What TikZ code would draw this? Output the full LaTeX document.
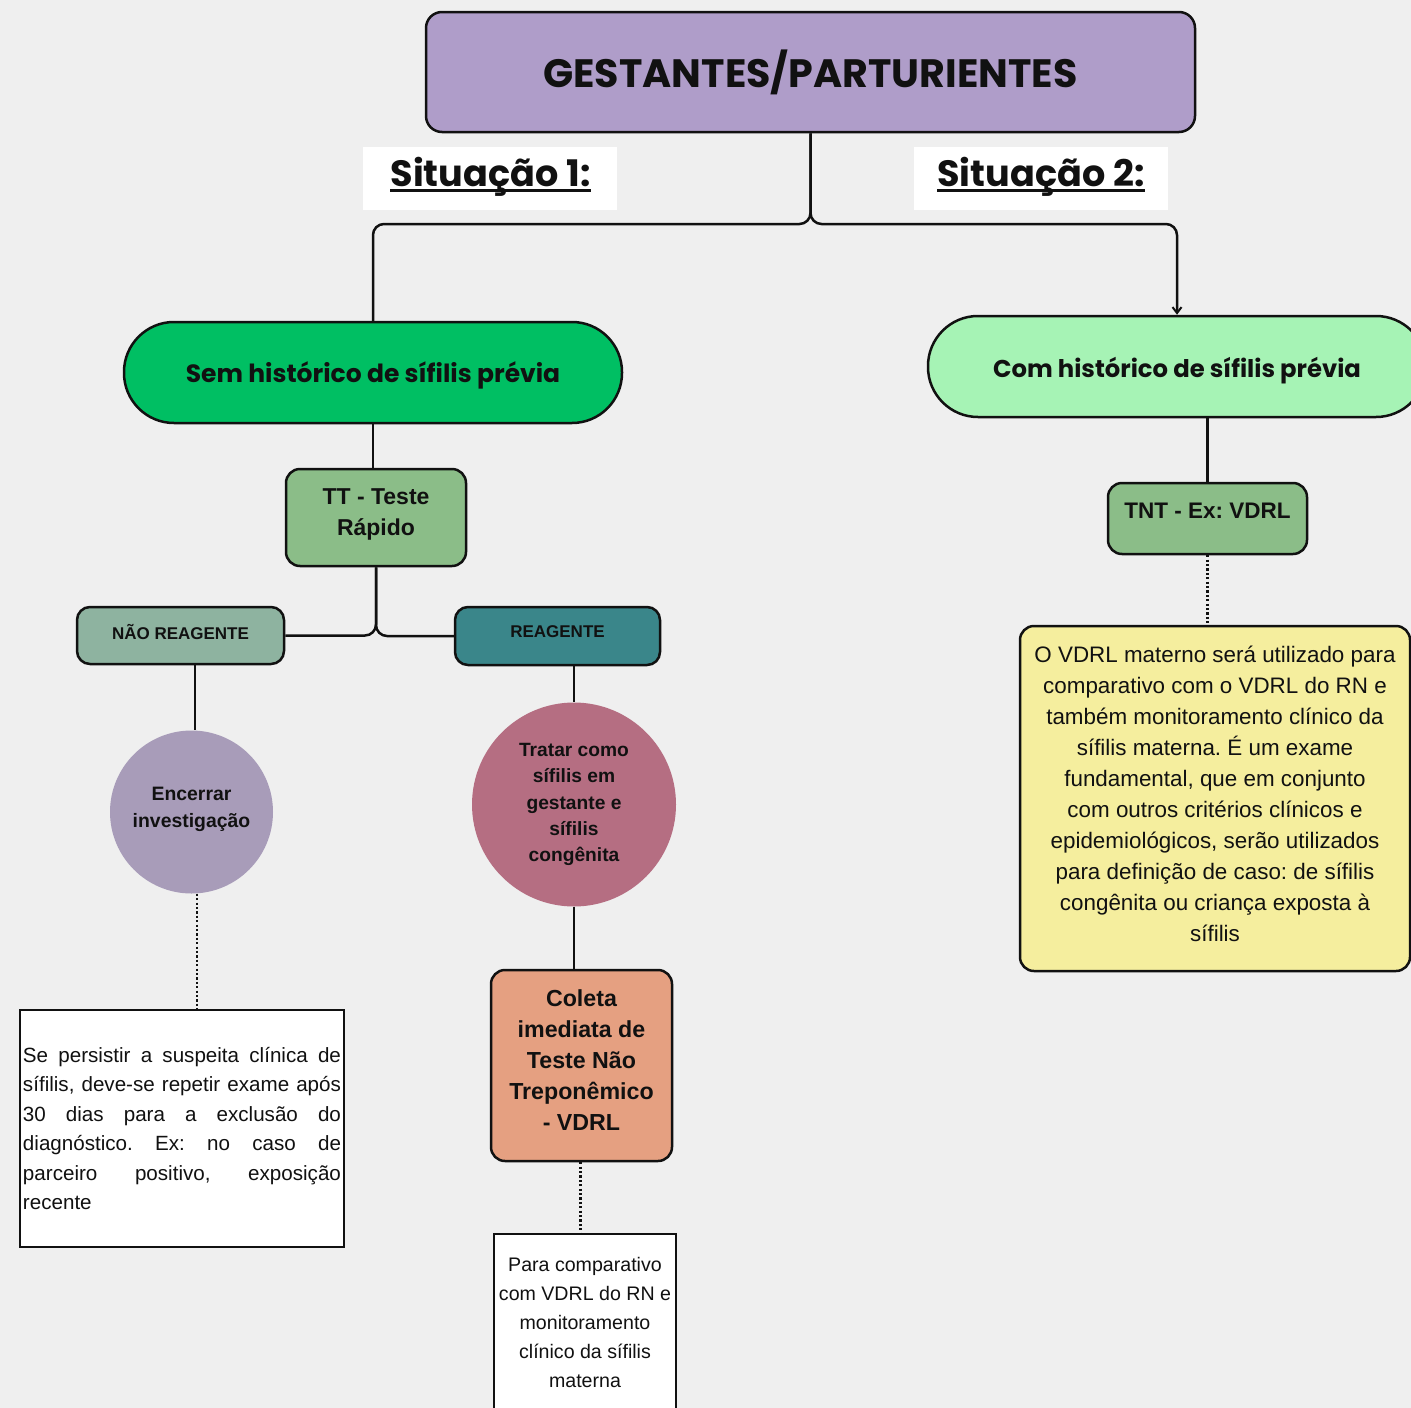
\documentclass[tikz,border=0pt]{standalone}
\usepackage{fontspec}
\setmainfont{Liberation Sans}
\newfontfamily\pop{Poppins}
\usetikzlibrary{arrows.meta}
\definecolor{bg}{HTML}{EFEFEF}
\definecolor{cTitle}{HTML}{AF9DC9}
\definecolor{cSem}{HTML}{00BF63}
\definecolor{cCom}{HTML}{A6F3B5}
\definecolor{cTT}{HTML}{8BBD88}
\definecolor{cNao}{HTML}{8EB3A0}
\definecolor{cReag}{HTML}{3A868A}
\definecolor{cEnc}{HTML}{A89CB9}
\definecolor{cTrat}{HTML}{B56E82}
\definecolor{cCol}{HTML}{E5A081}
\definecolor{cYel}{HTML}{F5EE9E}
\definecolor{ink}{HTML}{111111}
\hbadness=10000
\frenchspacing
\tikzset{
  box/.style={draw=ink, line width=2.5, rounded corners=14, inner sep=0, align=center, text=ink},
  pill/.style={draw=ink, line width=2.5, rounded corners=50, inner sep=0, text=ink, minimum width=498, minimum height=101},
  blob/.style={circle, inner sep=0, align=center, text=ink},
  note/.style={draw=ink, line width=1.6, fill=white, inner sep=0, text=ink},
  conn/.style={draw=ink, line width=2.5, rounded corners=11},
  dotconn/.style={draw=ink, line width=2.6, dash pattern=on 2.2 off 2.2},
}
\begin{document}
\begin{tikzpicture}[x=1pt,y=-1pt]
\path[fill=bg] (0,0) rectangle (1411,1408);
\useasboundingbox (0,0) rectangle (1411,1408);
\clip (0,0) rectangle (1411,1408);

% title
\node[box, fill=cTitle, rounded corners=16, minimum width=769, minimum height=120,
  font=\pop\bfseries\fontsize{39.6}{44}\selectfont]
  (title) at (810.5,72) {GESTANTES/PARTURIENTES};

% situation labels
\node[fill=white, minimum width=254, minimum height=63, inner sep=0] (s1box) at (490,178.5) {};
\node[anchor=base, inner sep=0, text=ink, font=\pop\bfseries\fontsize{36.6}{44}\selectfont] (s1t) at (490.5,186) {Situação 1:};
\draw[ink, line width=3] ([yshift=-4]s1t.base west) -- ([yshift=-4]s1t.base east);
\node[fill=white, minimum width=254, minimum height=63, inner sep=0] (s2box) at (1041,178.5) {};
\node[anchor=base, inner sep=0, text=ink, font=\pop\bfseries\fontsize{36.6}{44}\selectfont] (s2t) at (1041,186) {Situação 2:};
\draw[ink, line width=3] ([yshift=-4]s2t.base west) -- ([yshift=-4]s2t.base east);

% level 2
\node[pill, fill=cSem, font=\pop\bfseries\fontsize{25}{28}\selectfont] (sem) at (373,372.5)
  {\raisebox{0pt}[\dimexpr\height+5pt][\depth]{Sem histórico de sífilis prévia}};
\node[pill, fill=cCom, font=\pop\bfseries\fontsize{24.3}{28}\selectfont] (com) at (1177,366.5)
  {\raisebox{0pt}[\dimexpr\height+8pt][\depth]{Com histórico de sífilis prévia}};

% left branch
\node[box, fill=cTT, minimum width=180, minimum height=97, font=\bfseries\fontsize{23}{31}\selectfont] (tt) at (376,517.5)
  {TT - Teste\\Rápido\\[-20pt]\mbox{}};
\node[box, fill=cNao, rounded corners=13, minimum width=207, minimum height=57, font=\bfseries\fontsize{17}{20}\selectfont] (nao) at (180.5,635.5)
  {NÃO REAGENTE\raisebox{0pt}[0pt][8pt]{}};
\node[box, fill=cReag, rounded corners=13, minimum width=205, minimum height=58, font=\bfseries\fontsize{17}{20}\selectfont] (reag) at (557.5,636)
  {REAGENTE\raisebox{0pt}[0pt][8pt]{}};
\node[blob, fill=cEnc, minimum size=163, font=\bfseries\fontsize{19.4}{27}\selectfont] (enc) at (191.5,812)
  {Encerrar\\investigação\\[-18pt]\mbox{}};
\node[blob, fill=cTrat, minimum size=204, font=\bfseries\fontsize{19.2}{26.2}\selectfont] (trat) at (574,804.5)
  {Tratar como\\sífilis em\\gestante e\\sífilis\\congênita\\[-22pt]\mbox{}};
\node[box, fill=cCol, minimum width=181, minimum height=191, font=\bfseries\fontsize{23.2}{31}\selectfont] (col) at (581.5,1065.5)
  {Coleta\\imediata de\\Teste Não\\Treponêmico\\- VDRL\\[-20pt]\mbox{}};
\node[note, minimum width=324, minimum height=237, text width=318, align=justify, font=\fontsize{20.6}{29.4}\selectfont] (box1) at (182,1128.5)
  {Se persistir a suspeita clínica de\linebreak
   sífilis, deve-se repetir exame após\linebreak
   30 dias para a exclusão do\linebreak
   diagnóstico. Ex: no caso de\linebreak
   parceiro positivo, exposição\linebreak
   recente\par};
\node[note, minimum width=182, minimum height=177, align=center, font=\fontsize{19.6}{29.2}\selectfont] (box2) at (585,1322.5)
  {Para comparativo\\com VDRL do RN e\\monitoramento\\clínico da sífilis\\materna};

% right branch
\node[box, fill=cTT, minimum width=199, minimum height=71, font=\bfseries\fontsize{22.5}{27}\selectfont] (tnt) at (1207.5,518.5)
  {TNT - Ex: VDRL\\[-12pt]\mbox{}};
\node[box, fill=cYel, minimum width=390, minimum height=345, font=\fontsize{22.4}{31}\selectfont] (yel) at (1215,798.5)
  {O VDRL materno será utilizado para\\comparativo com o VDRL do RN e\\também monitoramento clínico da\\sífilis materna. É um exame\\fundamental, que em conjunto\\com outros critérios clínicos e\\epidemiológicos, serão utilizados\\para definição de caso: de sífilis\\congênita ou criança exposta à\\sífilis\\[-22pt]\mbox{}};

% connectors
\coordinate (fork) at (810.5,224);
\draw[conn] (title.south) -- (fork) -- (fork -| sem.north) -- (sem.north);
\draw[conn, -{Straight Barb[length=6,width=9,line width=2]}] (title.south) -- (fork) -- (fork -| com.north) -- (com.north);
\draw[conn] (sem.south) -- (sem.south |- tt.north);
\draw[conn] (tt.south) -- (tt.south |- nao.east) -- (nao.east);
\draw[conn] (tt.south) -- (tt.south |- reag.west) -- (reag.west);
\draw[conn] ([xshift=14.5]nao.south) -- ([xshift=14.5]nao.south |- enc.north);
\draw[conn] (trat.north |- reag.south) -- (trat.north);
\draw[conn] (trat.south) -- (trat.south |- col.north);
\draw[conn] (com.south -| tnt.north) -- (tnt.north);
\draw[dotconn] ([xshift=5.5]enc.south) -- ([xshift=5.5]enc.south |- box1.north);
\draw[dotconn] ([xshift=-1]col.south) -- ([xshift=-1]col.south |- box2.north);
\draw[dotconn] (tnt.south) -- (tnt.south |- yel.north);
\end{tikzpicture}
\end{document}
